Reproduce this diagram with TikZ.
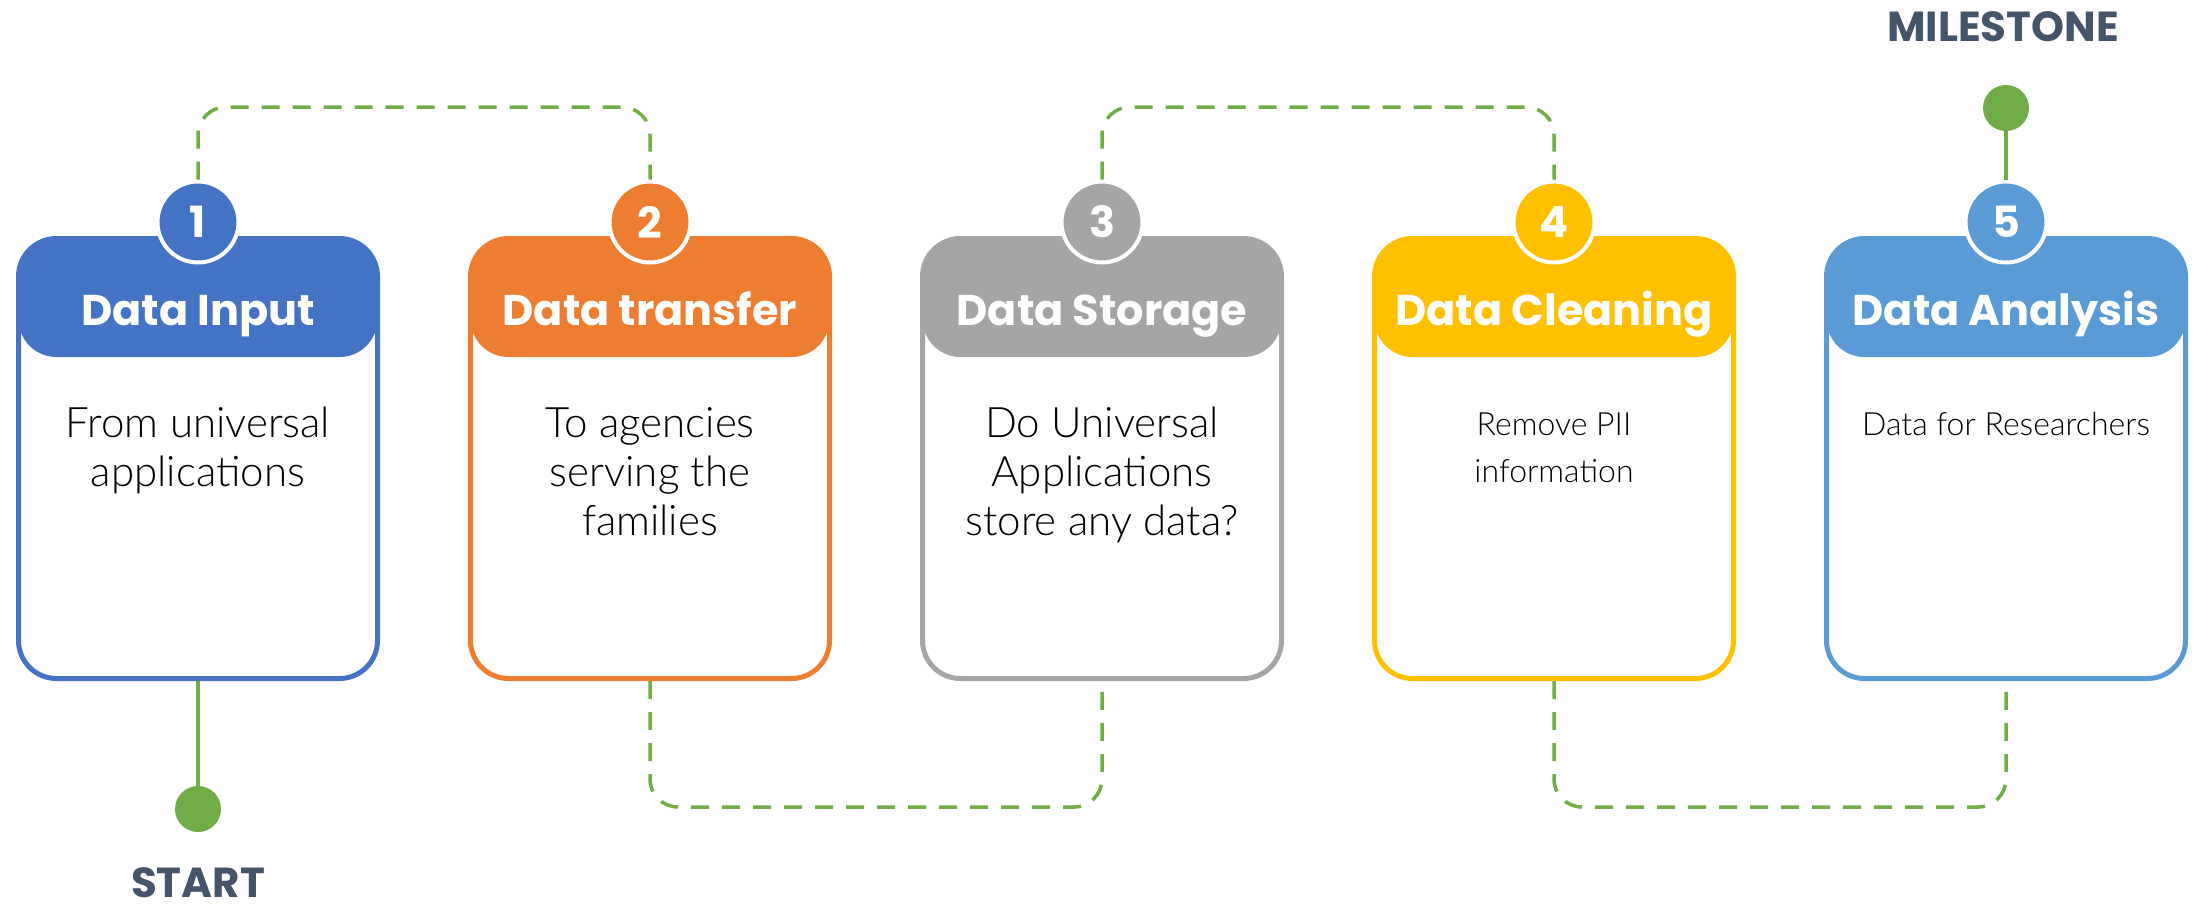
\documentclass[tikz,border=0pt]{standalone}
\usepackage{fontspec}
\newfontfamily\headfont{Poppins}
\newfontfamily\bodyfont{Lato Light}
\definecolor{stepBlue}{HTML}{4472C4}
\definecolor{stepOrange}{HTML}{ED7D31}
\definecolor{stepGray}{HTML}{A5A5A5}
\definecolor{stepGold}{HTML}{FFC000}
\definecolor{stepSky}{HTML}{5B9BD5}
\definecolor{lineGreen}{HTML}{70AD47}
\definecolor{slate}{HTML}{44546A}
\tikzset{
  stepbox/.style={draw=#1, fill=white, line width=5pt, rounded corners=38pt,
    minimum width=359pt, minimum height=440pt, inner sep=0pt,
    path picture={\fill[#1] (path picture bounding box.north west) rectangle
      ([yshift=-118.5pt]path picture bounding box.north east);}},
  numdisc/.style={circle, fill=#1, draw=white, line width=4pt, minimum size=81pt,
    inner sep=0pt, text=white, font=\headfont\bfseries\fontsize{43}{43}\selectfont},
  headtext/.style={anchor=base, text=white, inner sep=0pt,
    font=\headfont\bfseries\fontsize{43}{43}\selectfont},
  % multi-line descriptions: the base anchor sits on the last line
  bodytext/.style={anchor=base, align=center, inner sep=0pt,
    font=\bodyfont\fontsize{42}{49}\selectfont},
  smalltext/.style={anchor=base, align=center, inner sep=0pt,
    font=\bodyfont\fontsize{32}{47}\selectfont},
  flowline/.style={draw=lineGreen, line width=3.5pt, dash pattern=on 18pt off 13pt,
    rounded corners=28pt},
  stemline/.style={draw=lineGreen, line width=3.5pt},
  enddot/.style={circle, fill=lineGreen, minimum size=46pt, inner sep=0pt},
  marklabel/.style={anchor=base, text=slate, inner sep=0pt,
    font=\headfont\bfseries\fontsize{42}{42}\selectfont},
}
\begin{document}
\begin{tikzpicture}[x=1pt, y=-1pt]
\useasboundingbox (0,0) rectangle (2201,906);

% the five step cards
\node[stepbox=stepBlue]   (box1) at (198,458.5)  {};
\node[stepbox=stepOrange] (box2) at (650,458.5)  {};
\node[stepbox=stepGray]   (box3) at (1102,458.5) {};
\node[stepbox=stepGold]   (box4) at (1554,458.5) {};
\node[stepbox=stepSky]    (box5) at (2006,458.5) {};

% card titles
\node[headtext] (head1) at (198,325)  {Data Input};
\node[headtext] (head2) at (650,325)  {Data transfer};
\node[headtext] (head3) at (1102,325) {Data Storage};
\node[headtext] (head4) at (1554,325) {Data Cleaning};
\node[headtext] (head5) at (2006,325) {Data Analysis};

% card descriptions
\node[bodytext]  (text1) at (198,486)  {From universal\\applications};
\node[bodytext]  (text2) at (650,535)  {To agencies\\serving the\\families};
\node[bodytext]  (text3) at (1102,535) {Do Universal\\Applications\\store any data?};
\node[smalltext] (text4) at (1554,482) {Remove PII\\information};
\node[smalltext] (text5) at (2006,435) {Data for Researchers};

% step numbers
\node[numdisc=stepBlue]   (num1) at (198,222)  {1};
\node[numdisc=stepOrange] (num2) at (650,222)  {2};
\node[numdisc=stepGray]   (num3) at (1102,222) {3};
\node[numdisc=stepGold]   (num4) at (1554,222) {4};
\node[numdisc=stepSky]    (num5) at (2006,222) {5};

% start and end markers
\node[enddot] (startdot) at (198,809)  {};
\node[enddot] (enddot)   at (2006,108) {};
\draw[stemline] (box1.south) -- (startdot.north);
\draw[stemline] (enddot.south) -- (num5.north);
\node[marklabel] (startlbl) at (198,897)  {START};
\node[marklabel] (endlbl)   at (2003,41)  {MILESTONE};

% dashed links between consecutive steps
\draw[flowline] (num1.north) -- (num1.north |- 0,107) -- (num2.north |- 0,107) -- (num2.north);
\draw[flowline] (box2.south) -- (box2.south |- 0,807) -- (box3.south |- 0,807) -- (box3.south);
\draw[flowline] (num3.north) -- (num3.north |- 0,107) -- (num4.north |- 0,107) -- (num4.north);
\draw[flowline] (box4.south) -- (box4.south |- 0,807) -- (box5.south |- 0,807) -- (box5.south);
\end{tikzpicture}
\end{document}
